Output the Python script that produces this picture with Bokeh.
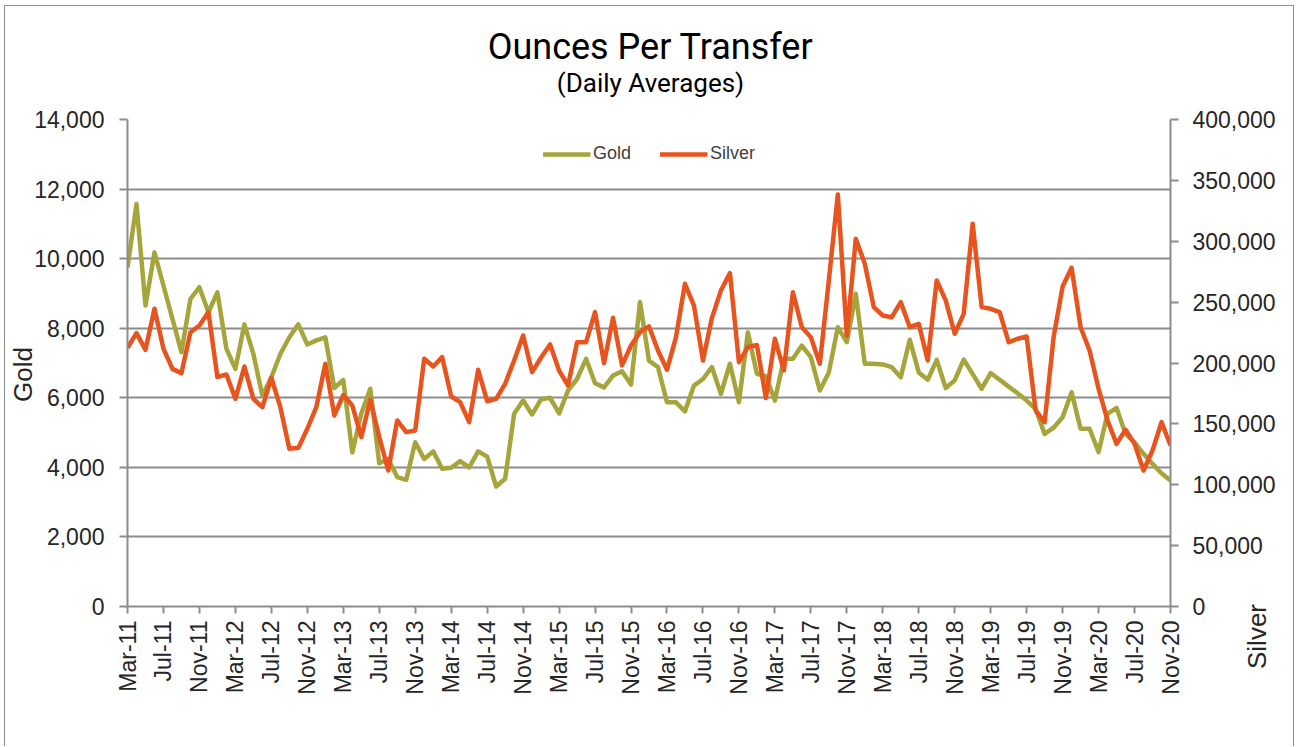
import numpy as np
from bokeh.plotting import figure
from bokeh.layouts import column
from bokeh.models import (Range1d, LinearAxis, FixedTicker, NumeralTickFormatter,
                          Label, Legend, LegendItem, ColumnDataSource)
from bokeh.embed import file_html
from bokeh.resources import INLINE

# ---------------- data ----------------
tick_labels = ["Mar-11", "Jul-11", "Nov-11", "Mar-12", "Jul-12", "Nov-12",
               "Mar-13", "Jul-13", "Nov-13", "Mar-14", "Jul-14", "Nov-14",
               "Mar-15", "Jul-15", "Nov-15", "Mar-16", "Jul-16", "Nov-16",
               "Mar-17", "Jul-17", "Nov-17", "Mar-18", "Jul-18", "Nov-18",
               "Mar-19", "Jul-19", "Nov-19", "Mar-20", "Jul-20", "Nov-20"]

# monthly values, Mar-11 .. Nov-20
gold = [9750, 11570, 8650, 10180, 9220, 8270, 7310, 8840, 9180, 8460,
        9030, 7410, 6830, 8110, 7260, 6060, 6590, 7260, 7740, 8110,
        7530, 7650, 7740, 6280, 6510, 4430, 5540, 6260, 4120, 4240,
        3720, 3640, 4720, 4240, 4460, 3960, 3990, 4180, 4000, 4460,
        4310, 3450, 3670, 5540, 5920, 5520, 5960, 6000, 5550, 6210,
        6540, 7120, 6420, 6300, 6640, 6760, 6380, 8750, 7070, 6880,
        5870, 5870, 5610, 6350, 6540, 6880, 6110, 6980, 5870, 7880,
        6690, 6620, 5920, 7120, 7120, 7500, 7170, 6210, 6730, 8030,
        7600, 8990, 6980, 6980, 6960, 6880, 6590, 7670, 6730, 6520,
        7090, 6280, 6500, 7100, 6680, 6260, 6710, 6520, 6320, 6130,
        5920, 5680, 4960, 5140, 5440, 6160, 5110, 5110, 4440, 5540,
        5710, 4960, 4720, 4390, 4100, 3830, 3620]

silver = [212500, 224500, 210800, 244500, 211700, 195200, 191700, 225300, 230800, 241800,
          188400, 190600, 170600, 197100, 170600, 163700, 187900, 163700, 129500, 130300,
          146000, 163700, 199400, 156900, 173700, 165100, 139100, 169800, 139100, 111700,
          152800, 143200, 144600, 203500, 197100, 204800, 172500, 167800, 151400, 194400,
          168600, 170600, 182900, 202100, 222600, 192500, 204500, 215200, 193800, 181500,
          217100, 217100, 241800, 199900, 237100, 198000, 214400, 225300, 230000, 210300,
          194400, 221200, 265100, 247200, 202100, 237100, 259600, 273800, 200700, 213000,
          214800, 171200, 219900, 193900, 258200, 229400, 221200, 199400, 267800, 338400,
          222600, 302000, 281500, 245900, 239000, 237600, 250000, 229400, 232200, 202100,
          267800, 251400, 224000, 240400, 314300, 245900, 244500, 241800, 217100, 219900,
          221800, 161000, 151400, 221200, 262800, 278200, 229400, 210300, 178800, 152800,
          133600, 145100, 133600, 111700, 128100, 151400, 132200]

month_index = list(range(len(gold)))
tick_pos = [4 * k for k in range(len(tick_labels))]

GOLD_C = "#A6A53B"
SILVER_C = "#E9531D"
GRID_C = "#8C8C8C"
TXT_C = "#262626"

src = ColumnDataSource(dict(m=month_index, gold=gold, silver=silver))

# ---------------- main chart ----------------
W, H = 1290, 741
X0, Y0 = 5, 6                          # canvas origin on page
FL, FR, FT, FB = 127, 1170, 119, 606   # frame edges on page
p = figure(width=W, height=H, output_backend="svg", toolbar_location=None,
           x_range=Range1d(0, len(gold) - 1), y_range=Range1d(0, 14000),
           min_border_left=FL - X0, min_border_right=X0 + W - FR,
           min_border_top=FT - Y0, min_border_bottom=Y0 + H - FB)
p.styles = {"margin-left": "4px", "margin-top": "5px",
            "border-left": "1px solid #8f8f8f", "border-top": "1px solid #8f8f8f",
            "border-right": "1px solid #8f8f8f"}
p.outline_line_color = None
p.background_fill_color = "white"
p.border_fill_color = "white"
p.extra_y_ranges = {"silver": Range1d(0, 400000)}

for ax in [p.xaxis[0], p.yaxis[0]]:
    ax.axis_line_color = GRID_C
    ax.axis_line_width = 2
    ax.major_tick_line_color = GRID_C
    ax.major_tick_line_width = 2
    ax.major_tick_in = 0
    ax.minor_tick_line_color = None
    ax.major_label_text_font = "Liberation Sans"
    ax.major_label_text_font_size = "23px"
    ax.major_label_text_color = TXT_C

p.xaxis.ticker = FixedTicker(ticks=tick_pos)
p.xaxis.major_label_overrides = {pos: lab for pos, lab in zip(tick_pos, tick_labels)}
p.xaxis.major_label_orientation = np.pi / 2
p.xaxis.major_tick_out = 7
p.xaxis.major_label_standoff = 7

p.yaxis.ticker = FixedTicker(ticks=list(range(0, 14001, 2000)))
p.yaxis.formatter = NumeralTickFormatter(format="0,0")
p.yaxis.major_tick_out = 8
p.yaxis.major_label_standoff = 15

ry = LinearAxis(y_range_name="silver",
                ticker=FixedTicker(ticks=list(range(0, 400001, 50000))),
                formatter=NumeralTickFormatter(format="0,0"))
ry.axis_line_color = GRID_C
ry.axis_line_width = 2
ry.major_tick_line_color = GRID_C
ry.major_tick_line_width = 2
ry.major_tick_in = 0
ry.major_tick_out = 8
ry.minor_tick_line_color = None
ry.major_label_standoff = 14
ry.major_label_text_font = "Liberation Sans"
ry.major_label_text_font_size = "23px"
ry.major_label_text_color = TXT_C
p.add_layout(ry, "right")

p.xgrid.visible = False
p.ygrid.ticker = p.yaxis[0].ticker
p.ygrid.grid_line_color = GRID_C
p.ygrid.grid_line_width = 2

rg = p.line("m", "gold", source=src, line_color=GOLD_C, line_width=4.5, line_join="round")
rs = p.line("m", "silver", source=src, y_range_name="silver", line_color=SILVER_C,
            line_width=4.5, line_join="round")

legend = Legend(items=[LegendItem(label="Gold", renderers=[rg]),
                       LegendItem(label="Silver", renderers=[rs])],
                orientation="horizontal", location="top_center",
                margin=24, padding=0, spacing=28, label_standoff=3,
                glyph_width=48, glyph_height=20, label_height=20,
                label_text_font="Liberation Sans", label_text_font_size="18px",
                label_text_color="#404040",
                border_line_color=None, background_fill_alpha=0)
p.add_layout(legend)

# ---------------- transparent text layer over the chart ----------------
# its frame covers the whole canvas; coordinates are canvas pixels from the top-left
q = figure(width=W, height=H, output_backend="svg", toolbar_location=None,
           title=None, x_range=Range1d(0, W), y_range=Range1d(H, 0),
           x_axis_type=None, y_axis_type=None,
           min_border_left=0, min_border_right=0, min_border_top=0, min_border_bottom=0)
q.styles = {"margin-left": "5px", "margin-top": "-%dpx" % H}
q.outline_line_color = None
q.background_fill_color = None
q.border_fill_color = None
for fig in (p, q):
    if "frame_align" in fig.properties():
        fig.frame_align = False

def put(text, px, py, size, font="Liberation Sans", angle=0.0, color="black"):
    q.add_layout(Label(x=px - X0, y=py - Y0, text=text, angle=angle,
                       text_align="center", text_baseline="alphabetic",
                       text_font=font, text_font_size=size, text_color=color))

put("Ounces Per Transfer", 650, 47, "36px", font="Roboto")
put("(Daily Averages)", 650, 83, "26px", font="Roboto")
put("Gold", 22, 375, "26px", angle=np.pi / 2, color=TXT_C)
put("Silver", 1256, 637, "26px", angle=np.pi / 2, color=TXT_C)

open("out.html", "w").write(file_html(column(p, q), INLINE))
